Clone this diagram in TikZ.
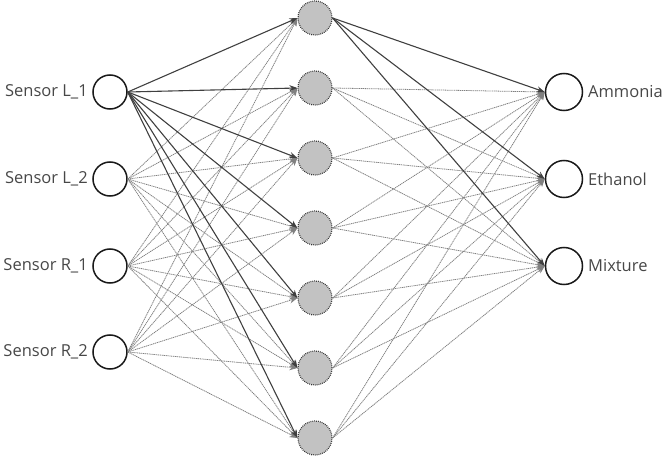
\documentclass[tikz,border=0pt]{standalone}
\usepackage{fontspec}
\setmainfont{Open Sans}
\usetikzlibrary{arrows.meta}
\begin{document}
\begin{tikzpicture}[x=1pt,y=-1pt,
  innode/.style={circle,draw=black!90,line width=1.5pt,minimum size=34pt,inner sep=0pt},
  outnode/.style={circle,draw=black!90,line width=1.5pt,minimum size=37pt,inner sep=0pt},
  hidnode/.style={circle,draw=black!80,fill=black!24,line width=1.2pt,dash pattern=on 0.8pt off 1.1pt,minimum size=34pt,inner sep=0pt},
  lbl/.style={text=black!72,font=\fontsize{16.5pt}{18pt}\selectfont,inner sep=0pt},
  strong/.style={draw=black!75,line width=1.1pt,-{Stealth[length=8pt,width=6pt]}},
  weak/.style={draw=black!50,line width=0.8pt,dash pattern=on 1.2pt off 0.7pt,-{Stealth[length=8pt,width=6pt]}}]
\useasboundingbox (0,0) rectangle (662,460);
% input nodes
\node[innode] (i1) at (110,92) {};
\node[innode] (i2) at (110,179) {};
\node[innode] (i3) at (110,266) {};
\node[innode] (i4) at (110,352) {};
\node[lbl,anchor=east] (li1) at (88,92) {Sensor L\_1};
\node[lbl,anchor=east] (li2) at (88,179) {Sensor L\_2};
\node[lbl,anchor=east] (li3) at (88,266) {Sensor R\_1};
\node[lbl,anchor=east] (li4) at (88,352) {Sensor R\_2};
% hidden nodes
\foreach \k in {1,...,7}
  \node[hidnode] (h\k) at (315,{18+70*(\k-1)}) {};
% output nodes
\node[outnode] (o1) at (564,92) {};
\node[outnode] (o2) at (564,179) {};
\node[outnode] (o3) at (564,266) {};
\node[lbl,anchor=west] (lo1) at (588,92) {Ammonia};
\node[lbl,anchor=west] (lo2) at (588,179) {Ethanol};
\node[lbl,anchor=west] (lo3) at (588,266) {Mixture};
% connections input -> hidden
\foreach \i in {2,3,4}
  \foreach \k in {1,...,7}
    \draw[weak] (i\i.east) -- (h\k.west);
\foreach \k in {2,...,7}
  \foreach \o in {1,2,3}
    \draw[weak] (h\k.east) -- (o\o.west);
\foreach \k in {1,...,7}
  \draw[strong] (i1.east) -- (h\k.west);
\foreach \o in {1,2,3}
  \draw[strong] (h1.east) -- (o\o.west);
\end{tikzpicture}
\end{document}
